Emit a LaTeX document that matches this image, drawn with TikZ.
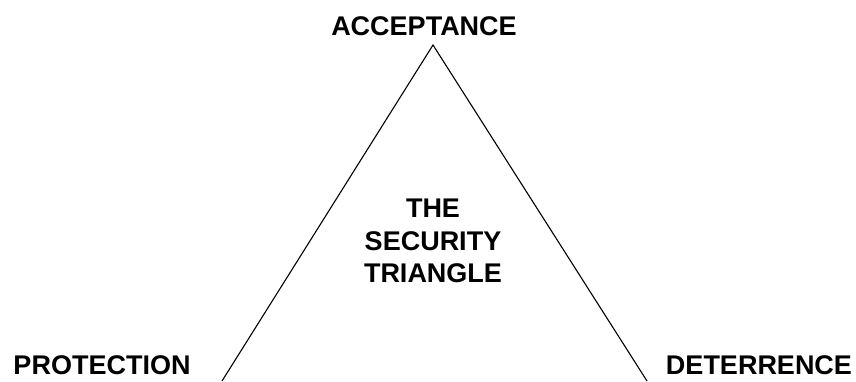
\documentclass[tikz,border=0pt]{standalone}
\usepackage{fontspec}
\setmainfont{Liberation Sans}
\begin{document}
\begin{tikzpicture}[x=1pt,y=-1pt,
  lbl/.style={font=\fontsize{27}{32.5}\selectfont\bfseries, inner sep=0pt, anchor=base, align=center},
  edge/.style={line width=1.1pt, black}]
\useasboundingbox (0,0) rectangle (856,381);
\coordinate (apex) at (433,45);
\coordinate (bl) at (222,381);
\coordinate (br) at (647,381);
\draw[edge] (bl) -- (apex) -- (br);
\node[lbl] (acc) at (424,35) {ACCEPTANCE};
\node[lbl] (pro) at (102,374) {PROTECTION};
\node[lbl] (det) at (759,374) {DETERRENCE};
\node[lbl, anchor=center] (mid) at (433,241) {THE\\SECURITY\\TRIANGLE};
\end{tikzpicture}
\end{document}
